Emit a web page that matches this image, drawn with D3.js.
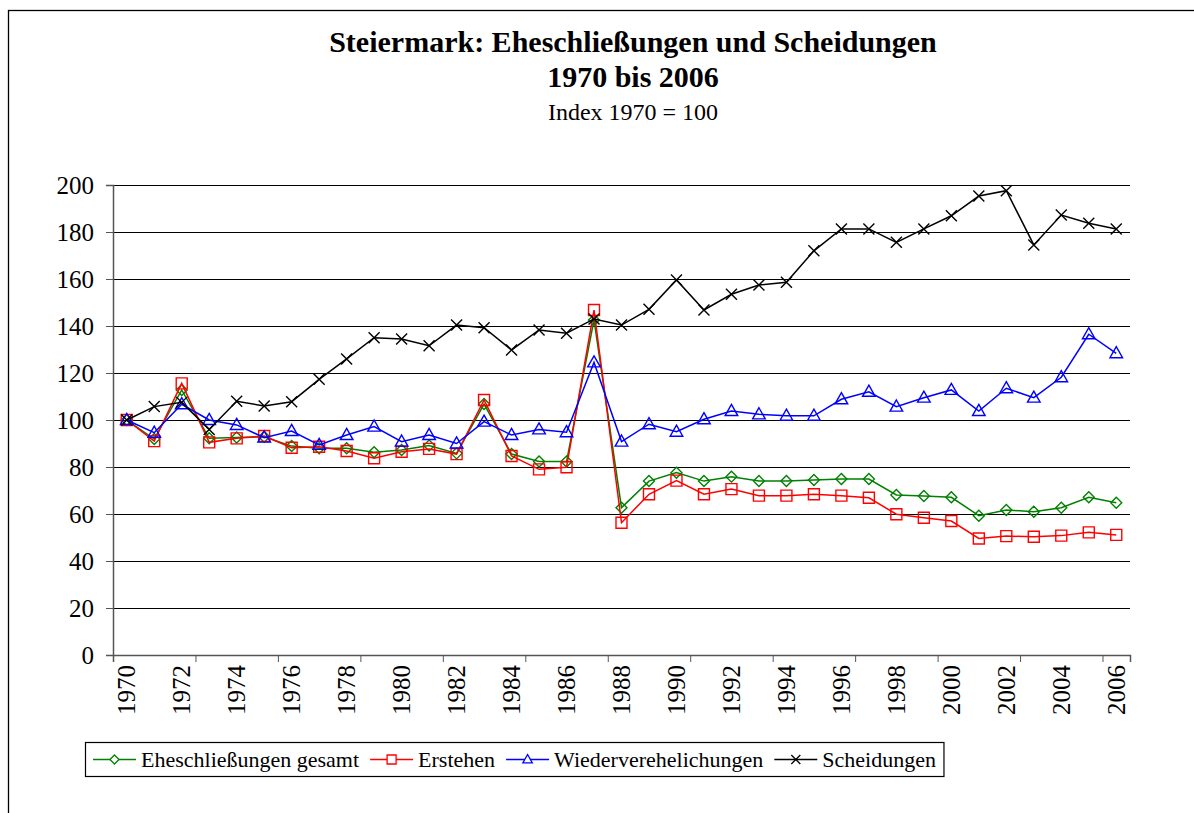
<!DOCTYPE html>
<html>
<head>
<meta charset="utf-8">
<script src="https://cdn.jsdelivr.net/npm/d3@7"></script>
<style>
  html, body { margin: 0; padding: 0; background: #fff; }
  svg { display: block; }
  svg text { font-family: "Liberation Serif", "Times New Roman", serif !important; }
</style>
</head>
<body>
<svg id="chart" width="1194" height="813"></svg>
<script>
const years = [1970,1971,1972,1973,1974,1975,1976,1977,1978,1979,1980,1981,1982,1983,1984,1985,1986,1987,1988,1989,1990,1991,1992,1993,1994,1995,1996,1997,1998,1999,2000,2001,2002,2003,2004,2005,2006];

const gesamt = [100,91.9,112.8,92.2,92.6,92.9,88.9,88,88,86.3,87.2,89.1,85.8,106.8,85.5,82.3,82.3,142.6,62.7,74,77.6,74,75.9,74,74,74.5,74.9,74.9,68.1,67.7,67.1,59.3,61.7,61,62.7,67.1,64.8];
const erstehen = [100,91,115.6,90.5,92.2,93.2,88.2,88.6,86.8,83.7,86.5,87.7,85.5,108.5,84.7,79,79.9,146.8,56.3,68.4,74.2,68.4,70.6,67.8,67.8,68.4,67.8,66.9,59.9,58.4,57,49.6,50.6,50.3,50.8,52.2,51.1];
const wieder = [100,94.6,106.7,100,97.9,92.5,95.3,89.4,93.6,97.2,90.8,93.6,90,99.3,93.6,96,94.8,124.5,90.8,98.2,95,100.3,103.8,102.4,101.8,101.8,108.8,112,105.7,109.5,112.8,103.8,113.5,109.5,118.2,136.5,128.4];
const scheidungen = [100,105.7,107.5,96,108,106,107.8,117.3,126,135,134.5,131.6,140.4,139.3,129.8,138.3,136.9,143,140.4,147.1,159.6,146.8,153.5,157.4,158.6,172,181.3,181.3,175.6,181.3,186.9,195.3,197.6,174.5,187.2,183.7,181.3];

const seriesNames = ["Eheschließungen gesamt", "Erstehen", "Wiederverehelichungen", "Scheidungen"];
const seriesColors = ["#008000", "#FF0000", "#0000FF", "#000000"];
const seriesMarkers = ["diamond", "square", "triangle", "cross"];
const seriesValues = [gesamt, erstehen, wieder, scheidungen];

const yTicks = [0,20,40,60,80,100,120,140,160,180,200];
const xLabelYears = years.filter(yr => (yr - 1970) % 2 === 0);

const titleLines = ["Steiermark: Eheschließungen und Scheidungen", "1970 bis 2006"];
const subtitle = "Index 1970 = 100";

const svg = d3.select("#chart");

// outer frame (right/bottom edges lie outside the picture)
svg.append("rect")
  .attr("x", 8.5).attr("y", 10.5)
  .attr("width", 1300).attr("height", 900)
  .attr("fill", "#fff").attr("stroke", "#000").attr("stroke-width", 1.3);

const plotL = 113, plotR = 1130, plotT = 185, plotB = 655;

const x = d3.scaleBand().domain(years).range([plotL, plotR]).padding(0);
const xIdx = d3.scaleLinear().domain([0, years.length]).range([plotL, plotR]);
const y = d3.scaleLinear().domain([0, 200]).range([plotB, plotT]);

// titles
svg.append("text").attr("x", 633).attr("y", 52).attr("text-anchor", "middle")
  .attr("font-size", 30).attr("font-weight", "bold").text(titleLines[0]);
svg.append("text").attr("x", 633).attr("y", 87).attr("text-anchor", "middle")
  .attr("font-size", 30).attr("font-weight", "bold").text(titleLines[1]);
svg.append("text").attr("x", 633).attr("y", 120).attr("text-anchor", "middle")
  .attr("font-size", 24).text(subtitle);

// gridlines
svg.append("g").selectAll("line").data(yTicks.filter(t => t > 0)).join("line")
  .attr("x1", plotL).attr("x2", plotR)
  .attr("y1", d => Math.round(y(d)) + 0.5).attr("y2", d => Math.round(y(d)) + 0.5)
  .attr("stroke", "#000").attr("stroke-width", 1);

// y axis
const yAxis = svg.append("g").attr("transform", `translate(${plotL},0)`)
  .call(d3.axisLeft(y).tickValues(yTicks).tickSize(7).tickPadding(12).tickFormat(d3.format("d")));
yAxis.attr("font-family", null);
yAxis.select(".domain").attr("stroke", "#555").attr("stroke-width", 1.5);
yAxis.selectAll(".tick line").attr("stroke", "#555");
yAxis.selectAll("text").attr("font-size", 25).attr("fill", "#000");

// x axis (tick marks every 3 categories at boundaries)
const xAxis = svg.append("g").attr("transform", `translate(0,${plotB})`)
  .call(d3.axisBottom(xIdx).tickValues(d3.range(0, years.length, 3)).tickSize(7).tickFormat(""));
xAxis.select(".domain").attr("stroke", "#555").attr("stroke-width", 1.5);
xAxis.selectAll(".tick line").attr("stroke", "#555");

// x labels
svg.append("g").selectAll("text").data(xLabelYears).join("text")
  .attr("transform", d => `translate(${x(d) + x.bandwidth() / 2},${plotB + 10}) rotate(-90)`)
  .attr("text-anchor", "end").attr("dy", "0.35em")
  .attr("font-size", 25).text(d => d);

// markers
function markerPath(type, s) {
  if (type === "diamond") return `M0,${-s}L${s},0L0,${s}L${-s},0Z`;
  if (type === "square") return `M${-s},${-s}H${s}V${s}H${-s}Z`;
  if (type === "triangle") return `M0,${-s * 1.1}L${s * 1.05},${s * 0.75}L${-s * 1.05},${s * 0.75}Z`;
  return `M${-s},${-s}L${s},${s}M${-s},${s}L${s},${-s}`;
}
const markerSize = [5.5, 5.5, 6, 5.5];

const line = d3.line().x((d, i) => x(years[i]) + x.bandwidth() / 2).y(d => y(d));

seriesValues.forEach((vals, k) => {
  const g = svg.append("g");
  g.append("path").datum(vals).attr("d", line)
    .attr("fill", "none").attr("stroke", seriesColors[k]).attr("stroke-width", 1.5);
  g.selectAll("path.m").data(vals).join("path").attr("class", "m")
    .attr("transform", (d, i) => `translate(${x(years[i]) + x.bandwidth() / 2},${y(d)})`)
    .attr("d", markerPath(seriesMarkers[k], markerSize[k]))
    .attr("fill", "none").attr("stroke", seriesColors[k]).attr("stroke-width", 1.4);
});

// legend
const lg = svg.append("g");
const legBox = lg.append("rect").attr("x", 85.5).attr("y", 742.5).attr("height", 34)
  .attr("fill", "#fff").attr("stroke", "#000").attr("stroke-width", 1.2);
let cx = 93;
seriesNames.forEach((name, k) => {
  const item = lg.append("g");
  item.append("line").attr("x1", cx).attr("x2", cx + 43).attr("y1", 759.5).attr("y2", 759.5)
    .attr("stroke", seriesColors[k]).attr("stroke-width", 1.5);
  item.append("path").attr("transform", `translate(${cx + 21.5},759.5)`)
    .attr("d", markerPath(seriesMarkers[k], 4.5))
    .attr("fill", "#fff").attr("stroke", seriesColors[k]).attr("stroke-width", 1.3);
  const t = item.append("text").attr("x", cx + 48).attr("y", 767).attr("font-size", 22).text(name);
  cx += 48 + t.node().getComputedTextLength() + 11;
});
legBox.attr("width", cx - 85.5 - 3);
</script>
</body>
</html>
